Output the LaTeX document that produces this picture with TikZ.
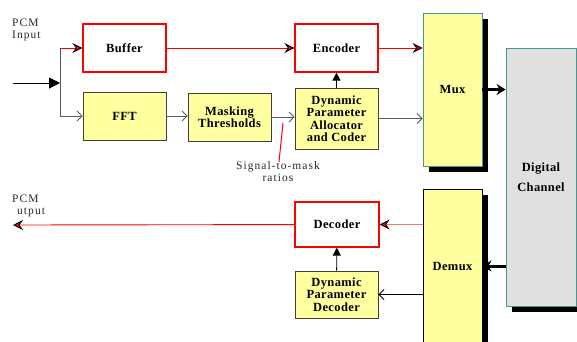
\documentclass[tikz,border=0pt]{standalone}
\usepackage{fontspec}
\setmainfont{Liberation Serif}
\newfontfamily\spacedfont[LetterSpace=9]{Liberation Serif}
\newfontfamily\boxfont[LetterSpace=3]{Liberation Serif}
\usepackage{xcolor}
\usetikzlibrary{shapes, arrows.meta, positioning, shadows}

\definecolor{boxyellow}{RGB}{255,255,160}
\definecolor{changray}{RGB}{224,224,224}
\definecolor{chanteal}{RGB}{70,150,150}
\definecolor{linegray}{RGB}{90,90,90}
\definecolor{labelgray}{RGB}{40,40,40}
\definecolor{lightred}{RGB}{240,120,120}

\begin{document}
\begin{tikzpicture}[
  x=1pt, y=-1pt,
  boxtext/.style={font=\boxfont\bfseries\fontsize{12.5}{12.5}\selectfont, align=center, inner sep=0pt},
  redbox/.style={rectangle, boxtext, draw=red, line width=1.2pt, fill=white, minimum width=83pt, minimum height=48pt},
  yellowbox/.style={rectangle, boxtext, draw=black!75, line width=0.8pt, fill=boxyellow, minimum width=83pt, minimum height=48pt},
  tallbox/.style={rectangle, boxtext, fill=boxyellow, line width=0.8pt, minimum width=59pt,
    drop shadow={shadow xshift=6pt, shadow yshift=-6pt, fill=black, opacity=1}},
  label/.style={text=labelgray, font=\spacedfont\fontsize{11.5}{12}\selectfont, inner sep=0pt},
  grayline/.style={draw=linegray, line width=0.9pt, -{Straight Barb[length=5pt,width=10pt]}},
  blackline/.style={draw=black, line width=0.9pt, -{Straight Barb[length=5pt,width=10pt]}},
  redline/.style={draw=red, line width=0.9pt, -{Stealth[length=10pt,width=10pt,inset=3.5pt,fill=red,color=black]}},
  uparrow/.style={draw=black, line width=0.9pt, -{Triangle[length=8pt,width=8pt]}},
  fatarrow/.style={draw=black, line width=3pt, -{Stealth[length=9pt,width=11pt]}}
]
\useasboundingbox (0,0) rectangle (577,341);

% encoder side
\node[redbox] (buffer) at (124.5,48) {Buffer};
\node[yellowbox] (fft) at (124.5,116) {FFT};
\node[yellowbox] (mask) at (229.5,117) {Masking\\Thresholds};
\node[redbox] (encoder) at (336.5,48) {Encoder};
\node[yellowbox, minimum height=61pt] (alloc) at (336.5,118.5) {Dynamic\\Parameter\\Allocator\\and Coder};
\node[tallbox, draw=chanteal, minimum height=153pt] (mux) at (452.5,89.5) {Mux};

% channel
\node[tallbox, fill=changray, draw=chanteal, minimum width=70pt, minimum height=258pt] (channel) at (541,177) {Digital\\[7pt]Channel};

% decoder side
\node[tallbox, draw=black, minimum height=154pt] (demux) at (452.5,266) {Demux};
\node[redbox, minimum width=84pt, minimum height=45pt] (decoder) at (337,224.5) {Decoder};
\node[yellowbox, minimum height=47pt] (pdec) at (336.5,294.5) {Dynamic\\Parameter\\Decoder};

% labels
\node[label, anchor=north west, align=left] (inlabel) at (12,19) {PCM\\Input};
\node[label, anchor=north west, align=left] (outlabel) at (12,195) {PCM\\\hspace*{5pt}utput};
\node[label, align=center] (ratios) at (278,172) {Signal-to-mask\\ratios};

\coordinate (pcmin) at (13,83);
\coordinate (split) at (60,83);
\coordinate (pcmout) at (13,225);
\coordinate (smr) at (283,123);

\draw[line width=1pt, -{Triangle[length=11pt,width=11pt]}] (pcmin) -- (split);
\draw[draw=linegray, line width=0.9pt] (split |- buffer) -- (split |- fft);
\draw[redline] (split |- buffer) -- (buffer);
\draw[grayline] (split |- fft) -- (fft);
\draw[grayline] (fft) -- (fft -| mask.west);
\draw[grayline] (mask.east) -- (mask.east -| alloc.west);
\draw[redline] (buffer) -- (encoder);
\draw[redline] (encoder) -- (encoder -| mux.west);
\draw[uparrow] (alloc) -- (encoder);
\draw[grayline] (alloc.east) -- (alloc.east -| mux.west);
\draw[fatarrow] (mux.east) -- (mux.east -| channel.west);
\draw[red, line width=1pt] (smr) -- ([xshift=1pt]ratios.north);

\draw[fatarrow] (channel.west |- demux) -- (demux.east);
\draw[redline, draw=lightred] (demux.west |- decoder) -- (decoder);
\draw[redline] (decoder) -- (pcmout);
\draw[uparrow] (pdec) -- (decoder);
\draw[blackline] (demux.west |- pdec) -- (pdec);

\end{tikzpicture}
\end{document}
